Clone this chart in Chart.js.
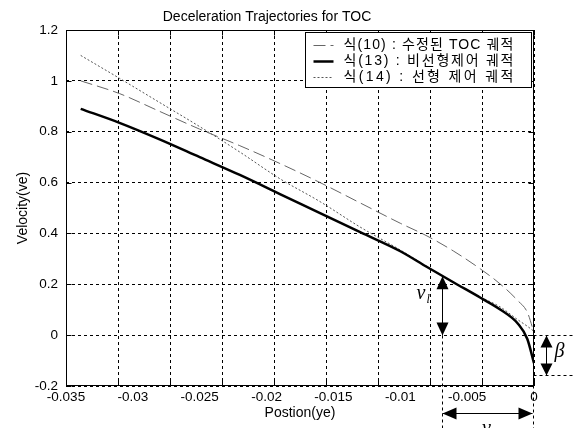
<!DOCTYPE html>
<html>
<head>
<meta charset="utf-8">
<script src="https://cdn.jsdelivr.net/npm/chart.js@4"></script>
<style>
  html, body { margin: 0; padding: 0; background: #fff; }
  canvas { display: block; }
</style>
</head>
<body>
<canvas id="chart" width="573" height="428"></canvas>
<script>
const positions = [-0.0339, -0.031, -0.028, -0.025, -0.022, -0.019, -0.016, -0.013, -0.010, -0.008, -0.006, -0.004, -0.0025, -0.0012, -0.0005, 0]
const tocModified = [1.00, 0.95, 0.88, 0.81, 0.745, 0.675, 0.60, 0.52, 0.44, 0.39, 0.33, 0.26, 0.20, 0.135, 0.09, 0.01]
const nonlinearCtrl = [0.89, 0.835, 0.77, 0.70, 0.63, 0.555, 0.48, 0.405, 0.33, 0.268, 0.207, 0.147, 0.10, 0.045, -0.015, -0.11]
const linearCtrl = [1.10, 1.01, 0.915, 0.82, 0.72, 0.615, 0.525, 0.425, 0.335, 0.27, 0.205, 0.15, 0.11, 0.06, 0.035, 0.015]
const seriesLabels = ['식(10) : 수정된 TOC 궤적', '식(13) : 비선형제어 궤적', '식(14) : 선형 제어 궤적']

const xTicks = [-0.035, -0.03, -0.025, -0.02, -0.015, -0.01, -0.005, 0]
const yTicks = [-0.2, 0, 0.2, 0.4, 0.6, 0.8, 1, 1.2]
const gridSteps = 9

// annotation values
const vlPosition = -0.0069
const vlTop = 0.232
const betaBottom = -0.155

const font = '"Liberation Sans", Arial, sans-serif'
const fmt = v => String(parseFloat(Number(v).toFixed(4)))
const pts = ys => positions.map((p, i) => ({ x: p, y: ys[i] }))

function head(ctx, x, y, dx, dy, len, half) {
    ctx.beginPath()
    ctx.moveTo(x, y)
    ctx.lineTo(x - dx * len - dy * half, y - dy * len + dx * half)
    ctx.lineTo(x - dx * len + dy * half, y - dy * len - dx * half)
    ctx.closePath()
    ctx.fill()
}

function doubleArrow(ctx, x1, y1, x2, y2, len, half) {
    const d = Math.hypot(x2 - x1, y2 - y1)
    const dx = (x2 - x1) / d, dy = (y2 - y1) / d
    ctx.setLineDash([])
    ctx.lineWidth = 1
    ctx.beginPath()
    ctx.moveTo(x1, y1)
    ctx.lineTo(x2, y2)
    ctx.stroke()
    head(ctx, x2, y2, dx, dy, len, half)
    head(ctx, x1, y1, -dx, -dy, len, half)
}

function dashed(ctx, x1, y1, x2, y2) {
    ctx.setLineDash([3, 3])
    ctx.lineWidth = 1
    ctx.beginPath()
    ctx.moveTo(x1, y1)
    ctx.lineTo(x2, y2)
    ctx.stroke()
}

const framePlugin = {
    id: 'frame',
    afterDraw(chart) {
        const { ctx, chartArea: a, scales } = chart
        const { x, y, xg } = scales
        const L = Math.round(a.left) + 0.5, R = Math.round(a.right) - 0.5
        const T = Math.round(a.top) + 0.5, B = Math.round(a.bottom) - 0.5
        ctx.save()
        ctx.strokeStyle = '#000'
        ctx.fillStyle = '#000'
        ctx.lineWidth = 1
        ctx.setLineDash([])
        ctx.strokeRect(L, T, R - L, B - T)

        // inward tick marks on all four sides
        ctx.beginPath()
        xg.ticks.forEach(t => {
            const px = Math.round(xg.getPixelForValue(t.value)) + 0.5
            ctx.moveTo(px, B); ctx.lineTo(px, B - 5)
            ctx.moveTo(px, T); ctx.lineTo(px, T + 5)
        })
        y.ticks.forEach(t => {
            const py = Math.round(y.getPixelForValue(t.value)) + 0.5
            ctx.moveTo(L, py); ctx.lineTo(L + 5, py)
            ctx.moveTo(R, py); ctx.lineTo(R - 5, py)
        })
        ctx.stroke()

        // legend box
        const lw = 226, lh = 55
        const lx = Math.round(a.right - lw - 3) + 0.5, ly = T + 2
        ctx.fillStyle = '#fff'
        ctx.fillRect(lx, ly, lw, lh)
        ctx.strokeRect(lx, ly, lw, lh)
        chart.data.datasets.forEach((ds, i) => {
            const cy = ly + 13 + i * 16
            ctx.strokeStyle = ds.borderColor
            ctx.lineWidth = ds.borderWidth
            ctx.setLineDash(ds.borderDash || [])
            ctx.beginPath()
            ctx.moveTo(lx + 8, cy)
            ctx.lineTo(lx + 28, cy)
            ctx.stroke()
            ctx.fillStyle = '#000'
            ctx.font = '14px "Liberation Sans", "Noto Sans CJK KR", sans-serif'
            ctx.textBaseline = 'middle'
            ctx.textAlign = 'left'
            ctx.letterSpacing = '0px'
            const w = ctx.measureText(ds.label).width
            const n = [...ds.label].length
            ctx.letterSpacing = Math.max(0, (170 - w) / (n - 1)) + 'px'
            ctx.fillText(ds.label, lx + 38, cy)
            ctx.letterSpacing = '0px'
        })

        // annotations
        ctx.strokeStyle = '#000'
        ctx.fillStyle = '#000'
        const vx = Math.round(x.getPixelForValue(vlPosition)) + 0.5
        const x0 = Math.round(x.getPixelForValue(0)) - 0.5
        const p0 = Math.round(y.getPixelForValue(0)) + 0.5
        const pTop = y.getPixelForValue(vlTop)
        const pLow = Math.round(y.getPixelForValue(betaBottom)) + 0.5

        dashed(ctx, vx, p0, vx, chart.height)
        dashed(ctx, x0, B, x0, chart.height)
        dashed(ctx, R, p0, chart.width, p0)
        dashed(ctx, R, pLow, chart.width, pLow)

        doubleArrow(ctx, vx, pTop, vx, p0, 13, 6)
        doubleArrow(ctx, R + 13, p0, R + 13, pLow, 12, 6)
        doubleArrow(ctx, vx, 413.5, x0 - 1, 413.5, 14, 6)

        ctx.textBaseline = 'alphabetic'
        ctx.font = 'italic 20px "Liberation Serif", serif'
        ctx.fillText('v', vx - 26, 299)
        ctx.font = 'italic 12px "Liberation Serif", serif'
        ctx.fillText('l', vx - 16, 303)
        ctx.font = 'italic 20px "Liberation Serif", serif'
        ctx.fillText('β', R + 21, 357)
        ctx.fillText('v', (vx + x0) / 2 - 6, 434)
        ctx.restore()
    }
}

new Chart(document.getElementById('chart'), {
    type: 'line',
    data: {
        datasets: [{
            label: seriesLabels[0],
            data: pts(tocModified),
            borderColor: '#666',
            borderWidth: 1,
            borderDash: [12, 5],
            pointRadius: 0,
            cubicInterpolationMode: 'monotone',
            fill: false,
        }, {
            label: seriesLabels[1],
            data: pts(nonlinearCtrl),
            borderColor: '#000',
            borderWidth: 2.5,
            pointRadius: 0,
            cubicInterpolationMode: 'monotone',
            fill: false,
        }, {
            label: seriesLabels[2],
            data: pts(linearCtrl),
            borderColor: '#555',
            borderWidth: 1,
            borderDash: [2, 2],
            pointRadius: 0,
            cubicInterpolationMode: 'monotone',
            fill: false,
        }]
    },
    options: {
        responsive: false,
        animation: false,
        events: [],
        layout: { padding: { left: 0, right: 39, top: 0, bottom: 0 } },
        plugins: {
            legend: { display: false },
            tooltip: { enabled: false },
            title: {
                display: true,
                text: 'Deceleration Trajectories for TOC',
                color: '#000',
                font: { family: font, size: 14, weight: 'normal' },
                padding: { top: 8.6, bottom: 4.6 },
            }
        },
        scales: {
            x: {
                type: 'linear',
                position: 'bottom',
                min: -0.035,
                max: 0,
                afterBuildTicks: s => { s.ticks = xTicks.map(v => ({ value: v })) },
                afterFit: s => { s.height = 42 },
                grid: { display: false, drawTicks: false },
                border: { display: false },
                ticks: { color: '#000', font: { family: font, size: 13.5 }, padding: 3, maxRotation: 0, autoSkip: false, callback: v => fmt(v) },
                title: { display: true, text: 'Postion(ye)', color: '#000', font: { family: font, size: 14 }, padding: { top: 0, bottom: 6 } },
            },
            xg: {
                type: 'linear',
                position: 'top',
                min: 0,
                max: gridSteps,
                afterBuildTicks: s => { s.ticks = Array.from({ length: gridSteps + 1 }, (_, i) => ({ value: i })) },
                afterFit: s => { s.height = 0 },
                ticks: { display: false },
                grid: { color: '#000', lineWidth: 1, drawTicks: false },
                border: { display: false, dash: [3, 3] },
            },
            y: {
                min: -0.2,
                max: 1.2,
                afterBuildTicks: s => { s.ticks = yTicks.map(v => ({ value: v })) },
                afterFit: s => { s.width = 66 },
                grid: { color: '#000', lineWidth: 1, drawTicks: false },
                border: { display: false, dash: [3, 3] },
                ticks: { color: '#000', font: { family: font, size: 13.5 }, padding: 8, callback: v => fmt(v) },
                title: { display: true, text: 'Velocity(ve)', color: '#000', font: { family: font, size: 14 }, padding: { top: 14.6, bottom: 0 } },
            }
        }
    },
    plugins: [framePlugin]
})
</script>
</body>
</html>
